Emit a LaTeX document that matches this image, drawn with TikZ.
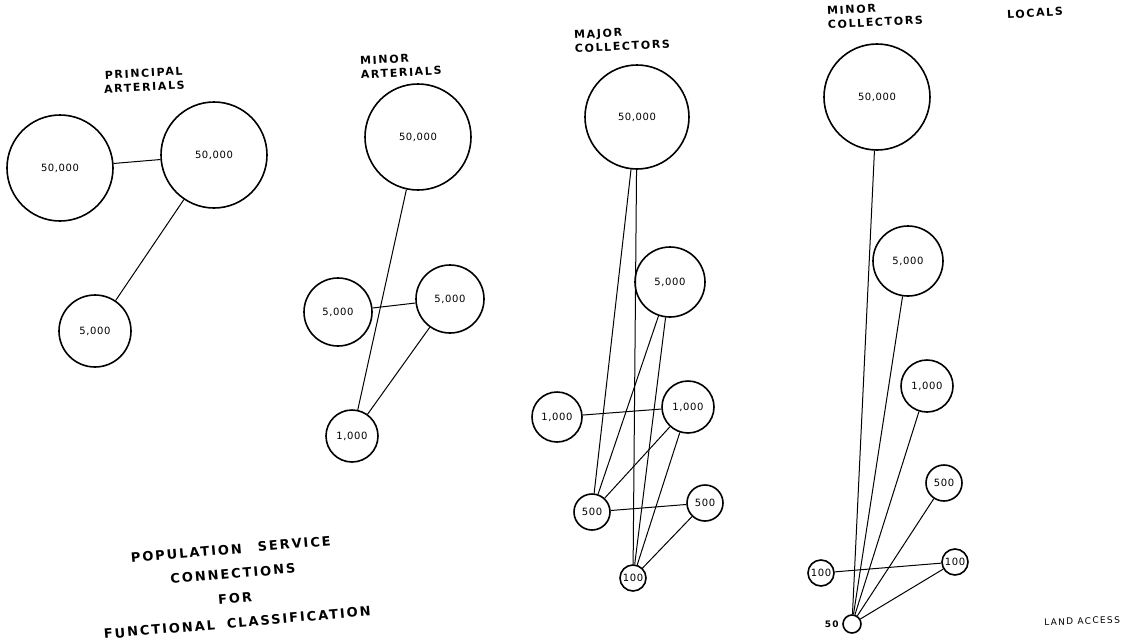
\documentclass[tikz,border=0pt]{standalone}
\usepackage{fontspec}
\setmainfont{DejaVu Sans}
\newfontfamily\lettering[LetterSpace=15]{DejaVu Sans}
\newfontfamily\digits[LetterSpace=6]{DejaVu Sans}
\begin{document}
\begin{tikzpicture}[x=1pt, y=-1pt,
    town/.style={draw, circle, line width=1.6pt, inner sep=0pt, minimum size=#1,
        font=\digits\fontsize{10}{10}\selectfont},
    link/.style={line width=1pt},
    heading/.style={font=\lettering\bfseries\fontsize{11}{14}\selectfont, rotate=3},
    title/.style={font=\lettering\bfseries\fontsize{13}{24.5}\selectfont, align=center, rotate=5}]

    \useasboundingbox (0,0) rectangle (1130,640);

    % Principal arterials
    \node[heading, align=center] (hPA) at (144,80) {PRINCIPAL\\ARTERIALS};
    \node[town=106pt] (pa1) at (60,168) {50,000};
    \node[town=106pt] (pa2) at (214,155) {50,000};
    \node[town=72pt] (pa3) at (95,331) {5,000};
    \foreach \a/\b in {pa1/pa2, pa2/pa3}
        \draw[link] (\a) -- (\b);

    % Minor arterials
    \node[heading, align=left, anchor=west] (hMA) at (357,68) {MINOR\\ARTERIALS};
    \node[town=106pt] (ma1) at (418,137) {50,000};
    \node[town=68pt] (ma2) at (338,312) {5,000};
    \node[town=68pt] (ma3) at (450,299) {5,000};
    \node[town=52pt] (ma4) at (352,436) {1,000};
    \foreach \a/\b in {ma1/ma4, ma2/ma3, ma3/ma4}
        \draw[link] (\a) -- (\b);

    % Major collectors
    \node[heading, align=left, anchor=west] (hJC) at (571,42) {MAJOR\\COLLECTORS};
    \node[town=104pt] (jc1) at (637,117) {50,000};
    \node[town=70pt] (jc2) at (670,282) {5,000};
    \node[town=50pt] (jc3) at (557,417) {1,000};
    \node[town=52pt] (jc4) at (688,407) {1,000};
    \node[town=36pt] (jc5) at (592,512) {500};
    \node[town=36pt] (jc6) at (705,503) {500};
    \node[town=26pt] (jc7) at (633,578) {100};
    \foreach \a/\b in {jc1/jc5, jc1/jc7, jc2/jc5, jc2/jc7, jc3/jc4,
                       jc4/jc5, jc4/jc7, jc5/jc6, jc6/jc7}
        \draw[link] (\a) -- (\b);

    % Minor collectors
    \node[heading, align=left, anchor=west] (hNC) at (824,18) {MINOR\\COLLECTORS};
    \node[town=106pt] (nc1) at (877,97) {50,000};
    \node[town=70pt] (nc2) at (908,261) {5,000};
    \node[town=52pt] (nc3) at (927,386) {1,000};
    \node[town=36pt] (nc4) at (944,483) {500};
    \node[town=26pt] (nc5) at (955,562) {100};
    \node[town=26pt] (nc6) at (821,573) {100};
    \node[town=18pt] (nc7) at (852,624) {};
    \node[font=\lettering\bfseries\fontsize{9}{9}\selectfont, anchor=east] (n50) at (nc7.west) {50};
    \foreach \a/\b in {nc1/nc7, nc2/nc7, nc3/nc7, nc4/nc7, nc5/nc7, nc6/nc5}
        \draw[link] (\a) -- (\b);

    % Locals
    \node[heading] (hLO) at (1035,13) {LOCALS};
    \node[font=\lettering\fontsize{9}{9}\selectfont, rotate=2] (hLA) at (1082,621) {LAND ACCESS};

    % Title
    \node[title] (ttl) at (234,586) {POPULATION\hspace{16pt}SERVICE\\CONNECTIONS\\FOR\\FUNCTIONAL\hspace{12pt}CLASSIFICATION};
\end{tikzpicture}
\end{document}
